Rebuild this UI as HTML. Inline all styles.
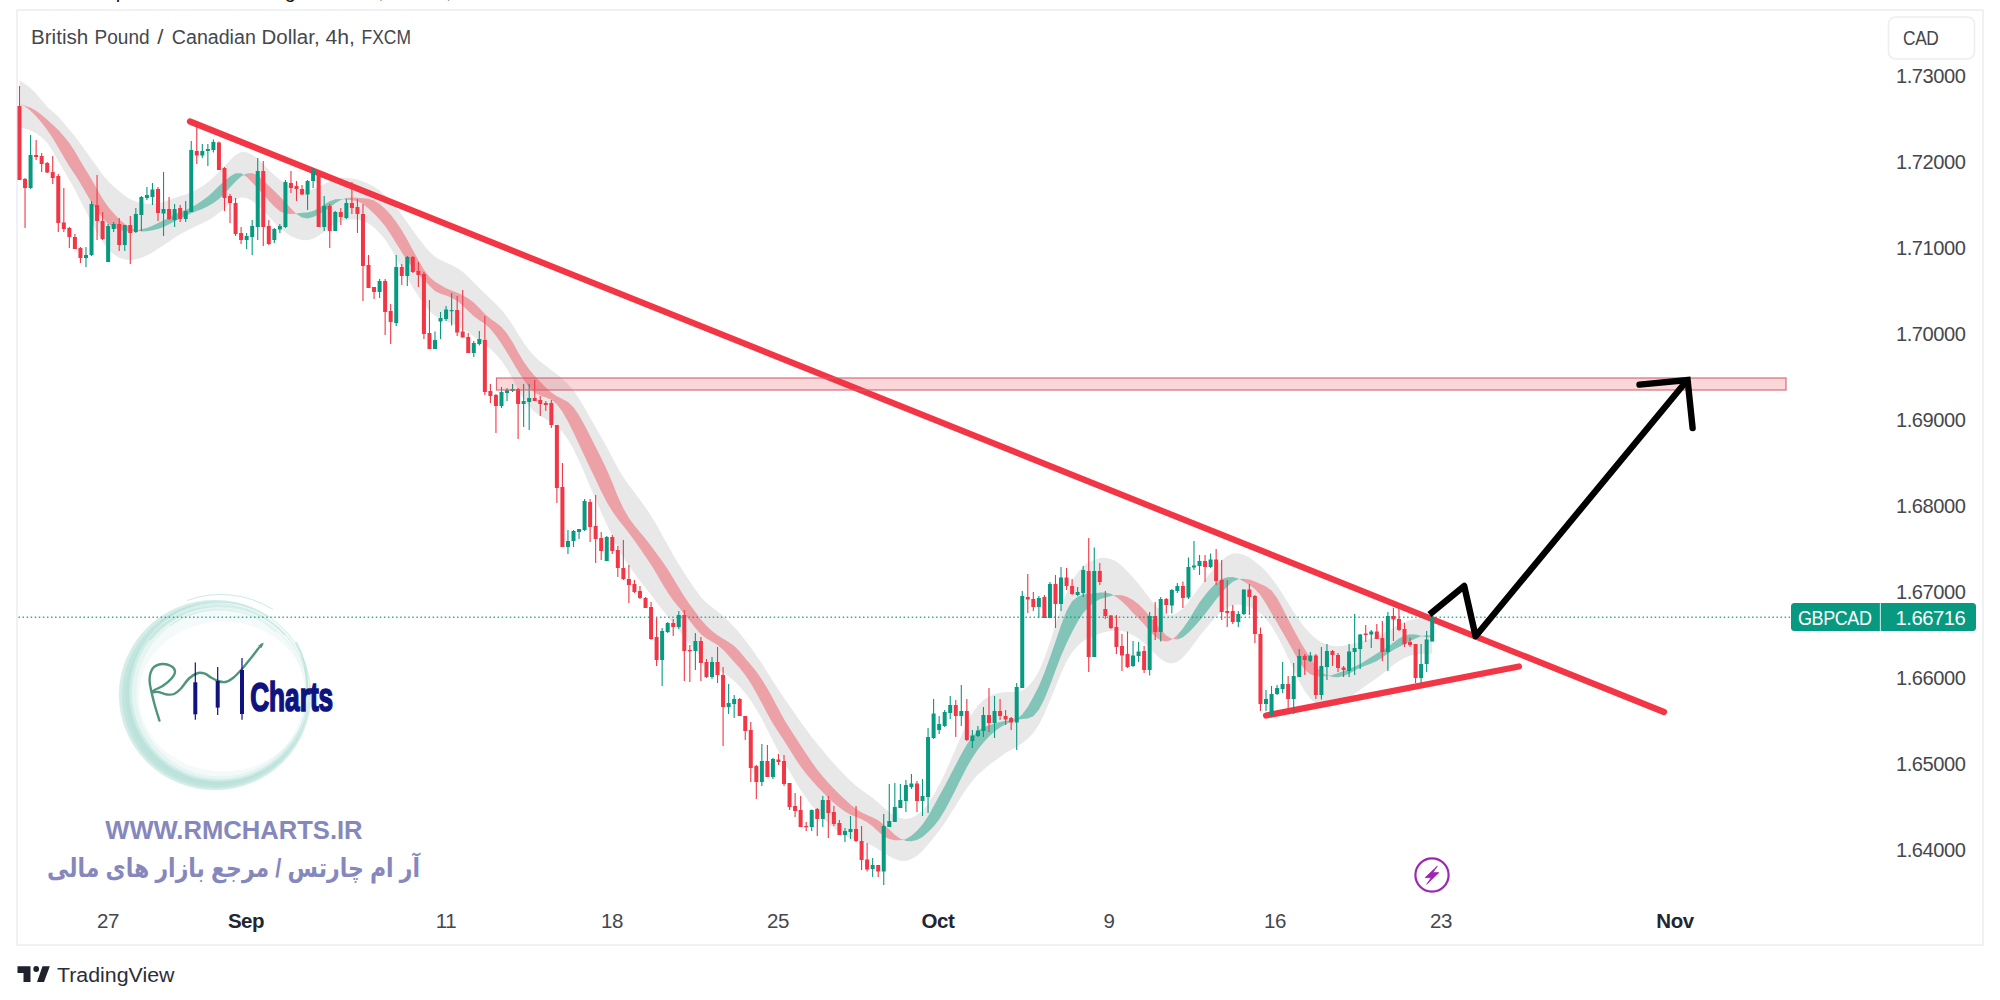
<!DOCTYPE html>
<html lang="en"><head><meta charset="utf-8"><title>GBPCAD 4h</title>
<style>
html,body{margin:0;padding:0;background:#fff;}
body{width:2000px;height:1000px;overflow:hidden;position:relative;font-family:"Liberation Sans","DejaVu Sans",sans-serif;}
#hdr{position:absolute;left:23px;letter-spacing:-0.3px;top:-19px;font-size:20px;line-height:20px;color:#131722;white-space:nowrap;}
#frame{position:absolute;left:16px;top:9px;width:1964px;height:933px;border:2px solid #f0f1f4;box-sizing:content-box;}
svg{position:absolute;left:0;top:0;}
.ax{font-family:"Liberation Sans",sans-serif;font-size:20.5px;fill:#45474d;letter-spacing:-0.45px;}
.ax.b{font-weight:bold;fill:#23262f;}
.ttl{font-family:"Liberation Sans",sans-serif;font-size:20px;fill:#45474d;}
</style></head><body>
<div id="hdr">RMCharts published on TradingView.com, Oct 22, 2023 17:41 UTC</div>
<div id="frame"></div>
<svg width="2000" height="1000" viewBox="0 0 2000 1000">
<g id="watermark">
<g fill="#8ed2c5" fill-rule="evenodd">
<path d="M118.5,695.0a96.5,95.5 0 1,0 193.0,0a96.5,95.5 0 1,0 -193.0,0ZM139.0,696.5a84,75 0 1,0 168,0a84,75 0 1,0 -168,0Z" fill-opacity="0.11"/>
<path d="M119.0,695.0a96,95 0 1,0 192,0a96,95 0 1,0 -192,0ZM129.3,692.0a90,89.5 0 1,0 180,0a90,89.5 0 1,0 -180,0Z" fill-opacity="0.30"/>
<path d="M122.0,695.5a93.5,92.5 0 1,0 187.0,0a93.5,92.5 0 1,0 -187.0,0ZM132.0,692.5a87.5,87 0 1,0 175.0,0a87.5,87 0 1,0 -175.0,0Z" fill-opacity="0.26"/>
<path d="M125.5,696.0a90.5,89.5 0 1,0 181.0,0a90.5,89.5 0 1,0 -181.0,0ZM136.5,693.0a84,83.5 0 1,0 168,0a84,83.5 0 1,0 -168,0Z" fill-opacity="0.12"/>
</g>
<g fill="none" stroke="#8ed2c5">
<path d="M187,600.5 A98,98 0 0 1 273,609.5" stroke-opacity="0.45" stroke-width="1"/>
<path d="M150,640 A88,87 0 0 1 285,635" stroke-opacity="0.30" stroke-width="1.6"/>
<path d="M160,622 A92,91 0 0 1 268,617" stroke-opacity="0.28" stroke-width="1.3"/>
<path d="M170,626 A82,80 0 0 1 276,632" stroke-opacity="0.22" stroke-width="1.2"/>
<path d="M296,642 A92,92 0 0 1 307,690" stroke-opacity="0.4" stroke-width="2.2"/>
</g>
<path d="M159.4,720.5 C158.7,718.1 156.3,710.8 155.0,706.0 C153.7,701.2 152.4,696.5 151.5,692.0 C150.6,687.5 149.3,683.0 149.6,679.0 C149.8,675.0 150.9,670.5 153.0,668.0 C155.1,665.5 159.0,664.3 162.0,664.0 C165.0,663.7 168.8,664.8 171.0,666.0 C173.2,667.2 174.9,669.4 175.0,671.5 C175.1,673.6 173.5,676.1 171.5,678.5 C169.5,680.9 165.8,683.8 163.0,685.7 C160.2,687.6 156.2,688.9 154.5,690.0 C152.8,691.1 152.3,692.0 153.0,692.3 C153.7,692.6 156.2,691.6 158.5,692.0 C160.8,692.4 164.4,694.2 167.0,694.5 C169.6,694.8 171.8,694.9 174.0,694.0 C176.2,693.1 178.0,691.6 180.5,689.0 C183.0,686.4 186.1,681.2 189.0,678.5 C191.9,675.8 195.3,673.8 198.0,673.0 C200.7,672.2 202.8,672.9 205.0,673.6 C207.2,674.4 208.8,676.3 211.0,677.5 C213.2,678.7 215.6,680.2 218.0,681.0 C220.4,681.8 223.0,682.5 225.5,682.0 C228.0,681.5 230.2,680.2 233.0,678.0 C235.8,675.8 239.0,672.3 242.0,669.0 C245.0,665.7 248.4,661.2 251.0,658.0 C253.6,654.8 255.7,651.8 257.5,649.5 C259.3,647.2 261.2,645.3 262.0,644.5" fill="none" stroke="#4d957d" stroke-width="2.4" stroke-linecap="round" stroke-linejoin="round"/>
<path d="M263.8,642.6 L258.2,645.6 L261.4,648.2 Z" fill="#4d957d"/>
<g fill="#0e1380" stroke="#0e1380">
<path d="M195.3,662.5V719.7M217.7,667V715M242,658V719.7" stroke-width="1.2" fill="none"/>
<rect x="193.3" y="682.3" width="4" height="32" stroke="none"/>
<rect x="215.7" y="681" width="4" height="26.6" stroke="none"/>
<rect x="240" y="670" width="4" height="44" stroke="none"/>
</g>
<text x="250.2" y="711.4" textLength="83" lengthAdjust="spacingAndGlyphs" style="font-family:'Liberation Sans',sans-serif;font-weight:bold;font-size:41px;fill:#0e1380;stroke:#0e1380;stroke-width:1.7px">Charts</text>
<text x="105.3" y="839" textLength="257.3" lengthAdjust="spacingAndGlyphs" style="font-family:'Liberation Sans',sans-serif;font-weight:bold;font-size:25px;fill:#8587bd">WWW.RMCHARTS.IR</text>
<text x="420" y="877" direction="rtl" text-anchor="start" textLength="373" lengthAdjust="spacingAndGlyphs" style="font-family:'Liberation Sans','DejaVu Sans',sans-serif;font-weight:bold;font-size:26px;fill:#8587bd" xml:lang="fa">آر ام چارتس / مرجع بازار های مالی</text>
</g>
<g id="ribbon"><path d="M19.5,80.4 L25.0,83.9 L30.6,88.2 L36.1,93.5 L41.7,100.2 L47.2,107.1 L52.7,111.6 L58.3,116.6 L63.8,122.9 L69.4,129.7 L74.9,136.3 L80.4,143.7 L86.0,151.6 L91.5,159.3 L97.1,167.1 L102.6,174.8 L108.1,181.3 L113.7,186.6 L119.2,191.3 L124.8,195.8 L130.3,199.3 L135.8,201.4 L141.4,202.9 L146.9,203.7 L152.5,203.7 L158.0,203.0 L163.5,202.0 L169.1,200.1 L174.6,198.0 L180.2,196.1 L185.7,194.5 L191.2,192.3 L196.8,189.5 L202.3,186.3 L207.9,182.3 L213.4,177.4 L218.9,171.9 L224.5,166.1 L230.0,160.2 L235.6,155.0 L241.1,152.1 L246.6,152.2 L252.2,154.7 L257.7,158.8 L263.3,164.1 L268.8,169.9 L274.3,175.0 L279.9,179.7 L285.4,183.7 L291.0,186.5 L296.5,188.8 L302.0,190.1 L307.6,190.4 L313.1,189.3 L318.7,187.0 L324.2,184.3 L329.7,181.3 L335.3,179.0 L340.8,177.9 L346.4,177.7 L351.9,178.4 L357.4,179.6 L363.0,181.5 L368.5,183.7 L374.1,186.7 L379.6,190.5 L385.1,195.2 L390.7,200.9 L396.2,207.5 L401.8,214.8 L407.3,222.5 L412.8,230.3 L418.4,238.0 L423.9,245.3 L429.5,251.8 L435.0,256.7 L440.5,259.9 L446.1,262.4 L451.6,264.9 L457.2,267.9 L462.7,271.8 L468.2,276.8 L473.8,282.5 L479.3,288.0 L484.9,293.4 L490.4,298.8 L495.9,304.0 L501.5,309.8 L507.0,316.8 L512.6,325.1 L518.1,334.1 L523.6,342.6 L529.2,350.5 L534.7,356.5 L540.3,361.4 L545.8,365.8 L551.3,369.9 L556.9,374.3 L562.4,378.8 L568.0,384.1 L573.5,390.6 L579.0,398.6 L584.6,407.9 L590.1,417.7 L595.7,427.2 L601.2,436.9 L606.7,447.1 L612.3,457.5 L617.8,467.9 L623.4,477.2 L628.9,485.0 L634.4,492.4 L640.0,499.8 L645.5,507.5 L651.1,515.8 L656.6,525.0 L662.1,535.1 L667.7,545.1 L673.2,555.0 L678.8,564.3 L684.3,573.1 L689.8,581.5 L695.4,589.6 L700.9,597.1 L706.5,602.8 L712.0,607.2 L717.5,611.5 L723.1,616.1 L728.6,621.3 L734.2,627.1 L739.7,633.2 L745.2,640.2 L750.8,647.6 L756.3,655.4 L761.9,663.6 L767.4,672.4 L772.9,681.3 L778.5,689.8 L784.0,698.0 L789.6,706.1 L795.1,714.0 L800.6,721.9 L806.2,729.5 L811.7,736.9 L817.3,744.0 L822.8,750.6 L828.3,757.2 L833.9,763.5 L839.4,769.5 L845.0,775.5 L850.5,781.0 L856.0,785.8 L861.6,790.1 L867.1,794.0 L872.7,798.0 L878.2,802.5 L883.7,807.6 L889.3,812.2 L894.8,816.0 L900.4,818.3 L905.9,819.1 L911.4,817.9 L917.0,815.0 L922.5,810.6 L928.1,803.8 L933.6,794.9 L939.1,784.9 L944.7,773.7 L950.2,761.3 L955.8,748.5 L961.3,735.7 L966.8,723.5 L972.4,713.3 L977.9,705.4 L983.5,700.1 L989.0,696.5 L994.5,694.1 L1000.1,692.7 L1005.6,692.0 L1011.2,692.1 L1016.7,692.3 L1022.2,690.4 L1027.8,686.5 L1033.3,680.4 L1038.9,671.0 L1044.4,658.1 L1049.9,642.5 L1055.5,625.1 L1061.0,607.8 L1066.6,592.8 L1072.1,581.1 L1077.6,572.6 L1083.2,566.2 L1088.7,562.3 L1094.3,559.9 L1099.8,558.1 L1105.3,557.8 L1110.9,559.0 L1116.4,561.6 L1122.0,565.9 L1127.5,571.4 L1133.0,577.6 L1138.6,584.1 L1144.1,591.0 L1149.7,598.5 L1155.2,605.2 L1160.7,611.0 L1166.3,614.3 L1171.8,614.9 L1177.4,612.8 L1182.9,608.4 L1188.4,602.1 L1194.0,594.5 L1199.5,586.9 L1205.1,579.7 L1210.6,572.6 L1216.1,566.0 L1221.7,560.4 L1227.2,556.1 L1232.8,553.6 L1238.3,553.2 L1243.8,554.8 L1249.4,557.5 L1254.9,561.4 L1260.5,566.0 L1266.0,571.3 L1271.5,577.7 L1277.1,585.5 L1282.6,594.1 L1288.2,603.1 L1293.7,611.9 L1299.2,619.9 L1304.8,627.5 L1310.3,633.8 L1315.9,638.7 L1321.4,642.3 L1326.9,644.6 L1332.5,645.9 L1338.0,646.2 L1343.6,645.7 L1349.1,644.7 L1354.6,643.2 L1360.2,641.9 L1365.7,640.3 L1371.3,638.4 L1376.8,636.4 L1382.3,634.0 L1387.9,631.0 L1393.4,627.7 L1399.0,624.5 L1404.5,622.0 L1410.0,619.9 L1415.6,618.7 L1421.1,618.4 L1426.7,618.6 L1432.2,619.1 L1432.2,653.7 L1426.7,653.7 L1421.1,653.7 L1415.6,654.3 L1410.0,655.7 L1404.5,658.1 L1399.0,661.1 L1393.4,665.0 L1387.9,669.6 L1382.3,674.0 L1376.8,678.1 L1371.3,682.0 L1365.7,685.7 L1360.2,689.7 L1354.6,693.8 L1349.1,697.9 L1343.6,701.3 L1338.0,704.1 L1332.5,706.2 L1326.9,707.0 L1321.4,706.2 L1315.9,703.5 L1310.3,698.5 L1304.8,691.2 L1299.2,681.5 L1293.7,670.0 L1288.2,658.0 L1282.6,646.2 L1277.1,635.4 L1271.5,626.1 L1266.0,618.8 L1260.5,613.3 L1254.9,609.3 L1249.4,607.1 L1243.8,605.5 L1238.3,604.6 L1232.8,605.3 L1227.2,607.7 L1221.7,611.5 L1216.1,616.6 L1210.6,622.7 L1205.1,629.3 L1199.5,636.2 L1194.0,643.7 L1188.4,651.2 L1182.9,657.5 L1177.4,661.8 L1171.8,663.6 L1166.3,662.6 L1160.7,659.0 L1155.2,653.9 L1149.7,648.6 L1144.1,643.0 L1138.6,638.6 L1133.0,635.3 L1127.5,632.4 L1122.0,631.0 L1116.4,630.5 L1110.9,630.9 L1105.3,632.0 L1099.8,633.6 L1094.3,635.9 L1088.7,638.0 L1083.2,641.1 L1077.6,645.9 L1072.1,652.2 L1066.6,661.3 L1061.0,673.4 L1055.5,686.9 L1049.9,700.8 L1044.4,713.7 L1038.9,724.7 L1033.3,732.9 L1027.8,738.7 L1022.2,743.3 L1016.7,746.8 L1011.2,749.8 L1005.6,753.1 L1000.1,756.9 L994.5,760.9 L989.0,765.1 L983.5,769.7 L977.9,774.5 L972.4,780.9 L966.8,788.3 L961.3,796.6 L955.8,805.4 L950.2,814.3 L944.7,823.0 L939.1,830.8 L933.6,837.8 L928.1,844.6 L922.5,850.7 L917.0,855.7 L911.4,859.1 L905.9,860.9 L900.4,860.7 L894.8,859.0 L889.3,856.3 L883.7,853.0 L878.2,849.3 L872.7,845.9 L867.1,843.4 L861.6,841.5 L856.0,839.9 L850.5,838.3 L845.0,835.7 L839.4,832.3 L833.9,828.2 L828.3,823.3 L822.8,818.0 L817.3,812.2 L811.7,805.5 L806.2,798.1 L800.6,790.0 L795.1,781.1 L789.6,771.6 L784.0,761.7 L778.5,751.4 L772.9,740.8 L767.4,729.9 L761.9,719.0 L756.3,709.2 L750.8,700.5 L745.2,693.0 L739.7,686.4 L734.2,681.0 L728.6,676.4 L723.1,672.4 L717.5,668.7 L712.0,665.4 L706.5,661.6 L700.9,656.4 L695.4,650.4 L689.8,644.0 L684.3,637.2 L678.8,630.5 L673.2,623.8 L667.7,616.6 L662.1,609.6 L656.6,602.2 L651.1,594.8 L645.5,587.9 L640.0,581.0 L634.4,573.6 L628.9,565.8 L623.4,557.4 L617.8,547.6 L612.3,536.4 L606.7,524.6 L601.2,512.3 L595.7,499.4 L590.1,486.4 L584.6,473.4 L579.0,460.8 L573.5,449.2 L568.0,439.5 L562.4,431.9 L556.9,426.1 L551.3,422.3 L545.8,419.3 L540.3,416.0 L534.7,412.0 L529.2,406.4 L523.6,398.7 L518.1,389.3 L512.6,379.0 L507.0,369.1 L501.5,360.8 L495.9,354.3 L490.4,349.0 L484.9,344.3 L479.3,340.2 L473.8,336.5 L468.2,332.6 L462.7,328.9 L457.2,325.8 L451.6,323.5 L446.1,321.3 L440.5,318.9 L435.0,315.9 L429.5,311.0 L423.9,304.1 L418.4,296.2 L412.8,287.5 L407.3,278.0 L401.8,267.9 L396.2,257.7 L390.7,248.2 L385.1,239.6 L379.6,232.9 L374.1,227.6 L368.5,223.5 L363.0,220.8 L357.4,219.4 L351.9,219.4 L346.4,219.9 L340.8,221.3 L335.3,223.7 L329.7,227.4 L324.2,231.8 L318.7,235.7 L313.1,238.8 L307.6,240.3 L302.0,240.1 L296.5,238.7 L291.0,236.0 L285.4,232.6 L279.9,228.0 L274.3,222.5 L268.8,216.6 L263.3,210.4 L257.7,204.9 L252.2,200.8 L246.6,198.0 L241.1,197.5 L235.6,199.6 L230.0,203.9 L224.5,208.6 L218.9,213.0 L213.4,217.1 L207.9,220.4 L202.3,223.2 L196.8,225.7 L191.2,228.5 L185.7,231.3 L180.2,234.3 L174.6,237.8 L169.1,241.5 L163.5,245.2 L158.0,248.8 L152.5,252.4 L146.9,255.5 L141.4,257.8 L135.8,259.3 L130.3,260.1 L124.8,259.5 L119.2,257.7 L113.7,254.3 L108.1,249.3 L102.6,242.1 L97.1,232.8 L91.5,222.4 L86.0,211.7 L80.4,200.5 L74.9,189.7 L69.4,180.0 L63.8,170.4 L58.3,160.9 L52.7,151.3 L47.2,142.8 L41.7,137.6 L36.1,133.3 L30.6,130.4 L25.0,128.5 L19.5,127.4Z" fill="#d9d9d9" fill-opacity="0.6" stroke="#d9d9d9" stroke-opacity="0.6" stroke-width="0" stroke-linejoin="round"/><path d="M19.5,103.9 L25.0,106.6 L30.6,110.7 L36.1,116.2 L41.7,122.7 L47.2,130.1 L52.7,138.1 L58.3,147.5 L63.8,157.0 L69.4,166.6 L74.9,174.5 L80.4,183.2 L86.0,193.0 L91.5,202.5 L97.1,210.7 L102.6,218.0 L108.1,223.9 L113.7,227.6 L119.2,229.9 L124.8,231.2 L130.3,231.6 L135.8,230.6 L141.4,229.3 L141.4,231.4 L135.8,230.2 L130.3,227.8 L124.8,224.1 L119.2,219.2 L113.7,213.3 L108.1,206.7 L102.6,198.8 L97.1,189.2 L91.5,179.3 L86.0,170.2 L80.4,161.0 L74.9,151.4 L69.4,143.1 L63.8,136.3 L58.3,129.9 L52.7,124.8 L47.2,119.8 L41.7,115.0 L36.1,110.7 L30.6,107.8 L25.0,105.8 L19.5,103.9Z" fill="#f23645" fill-opacity="0.4"/><path d="M141.4,229.3 L146.9,227.9 L152.5,225.8 L158.0,222.9 L163.5,220.2 L169.1,217.4 L174.6,214.6 L180.2,212.0 L185.7,210.0 L191.2,207.6 L196.8,204.2 L202.3,200.6 L207.9,196.5 L213.4,191.5 L218.9,186.0 L224.5,180.9 L230.0,176.5 L235.6,173.3 L241.1,173.2 L246.6,176.8 L246.6,173.4 L241.1,176.4 L235.6,181.4 L230.0,187.6 L224.5,193.7 L218.9,198.9 L213.4,202.9 L207.9,206.3 L202.3,208.9 L196.8,211.0 L191.2,213.2 L185.7,215.8 L180.2,218.4 L174.6,221.2 L169.1,224.3 L163.5,227.0 L158.0,228.9 L152.5,230.2 L146.9,231.3 L141.4,231.4Z" fill="#089981" fill-opacity="0.45"/><path d="M246.6,176.8 L252.2,182.6 L257.7,188.4 L263.3,194.2 L268.8,200.8 L274.3,206.6 L279.9,211.2 L285.4,213.7 L291.0,214.0 L296.5,213.5 L296.5,214.0 L291.0,208.6 L285.4,202.6 L279.9,196.5 L274.3,190.9 L268.8,185.7 L263.3,180.3 L257.7,175.4 L252.2,172.9 L246.6,173.4Z" fill="#f23645" fill-opacity="0.4"/><path d="M296.5,213.5 L302.0,212.7 L307.6,212.4 L313.1,211.0 L318.7,208.2 L324.2,204.6 L329.7,201.3 L335.3,199.3 L340.8,199.1 L346.4,199.6 L346.4,198.0 L340.8,200.1 L335.3,203.3 L329.7,207.4 L324.2,211.4 L318.7,214.5 L313.1,217.0 L307.6,218.4 L302.0,217.5 L296.5,214.0Z" fill="#089981" fill-opacity="0.45"/><path d="M346.4,199.6 L351.9,200.3 L357.4,201.3 L363.0,204.1 L368.5,208.4 L374.1,213.8 L379.6,219.5 L385.1,226.0 L390.7,234.3 L396.2,243.3 L401.8,252.3 L407.3,260.7 L412.8,267.9 L418.4,273.9 L423.9,279.7 L429.5,285.8 L435.0,291.0 L440.5,293.7 L446.1,295.6 L451.6,297.7 L457.2,301.0 L462.7,305.5 L468.2,311.0 L473.8,316.3 L479.3,320.3 L484.9,323.8 L490.4,328.9 L495.9,335.7 L501.5,343.7 L507.0,352.5 L512.6,361.8 L518.1,371.2 L523.6,379.7 L529.2,387.2 L534.7,392.5 L540.3,395.6 L545.8,397.6 L551.3,399.8 L556.9,404.2 L562.4,411.7 L568.0,421.4 L573.5,432.5 L579.0,444.2 L584.6,456.2 L590.1,467.9 L595.7,479.4 L601.2,491.2 L606.7,502.1 L612.3,511.3 L617.8,519.0 L623.4,526.0 L628.9,532.9 L634.4,540.5 L640.0,548.6 L645.5,556.6 L651.1,564.7 L656.6,573.7 L662.1,583.6 L667.7,592.5 L673.2,600.4 L678.8,607.2 L684.3,613.9 L689.8,621.1 L695.4,628.1 L700.9,634.2 L706.5,638.6 L712.0,641.7 L717.5,645.0 L723.1,649.7 L728.6,655.7 L734.2,662.0 L739.7,668.0 L745.2,675.0 L750.8,683.3 L756.3,693.0 L761.9,703.2 L767.4,713.7 L772.9,723.5 L778.5,732.2 L784.0,740.5 L789.6,749.4 L795.1,758.3 L800.6,766.6 L806.2,773.8 L811.7,780.3 L817.3,786.5 L822.8,792.2 L828.3,797.7 L833.9,803.0 L839.4,807.6 L845.0,811.6 L850.5,814.7 L856.0,816.8 L861.6,819.2 L867.1,822.3 L872.7,826.5 L878.2,831.4 L883.7,836.2 L889.3,839.1 L894.8,840.3 L900.4,840.2 L905.9,839.0 L905.9,840.9 L900.4,838.8 L894.8,834.7 L889.3,829.5 L883.7,824.4 L878.2,820.3 L872.7,817.4 L867.1,815.1 L861.6,812.4 L856.0,808.9 L850.5,804.6 L845.0,799.6 L839.4,794.2 L833.9,788.7 L828.3,782.8 L822.8,776.4 L817.3,769.7 L811.7,762.1 L806.2,753.8 L800.6,745.2 L795.1,736.8 L789.6,728.3 L784.0,719.2 L778.5,709.1 L772.9,698.6 L767.4,688.6 L761.9,679.5 L756.3,671.6 L750.8,664.8 L745.2,658.2 L739.7,651.6 L734.2,646.1 L728.6,642.0 L723.1,638.8 L717.5,635.3 L712.0,630.9 L706.5,625.8 L700.9,619.4 L695.4,611.9 L689.8,604.5 L684.3,596.4 L678.8,587.6 L673.2,578.3 L667.7,569.2 L662.1,561.1 L656.6,553.5 L651.1,545.9 L645.5,538.8 L640.0,532.2 L634.4,525.5 L628.9,518.0 L623.4,508.6 L617.8,496.4 L612.3,482.6 L606.7,469.6 L601.2,458.1 L595.7,447.1 L590.1,436.1 L584.6,425.2 L579.0,415.2 L573.5,407.3 L568.0,402.1 L562.4,399.0 L556.9,396.2 L551.3,392.4 L545.8,387.5 L540.3,381.8 L534.7,376.0 L529.2,369.6 L523.6,361.6 L518.1,352.2 L512.6,342.3 L507.0,333.5 L501.5,326.9 L495.9,322.6 L490.4,318.8 L484.9,313.9 L479.3,307.9 L473.8,302.6 L468.2,298.4 L462.7,295.2 L457.2,292.7 L451.6,290.6 L446.1,288.2 L440.5,285.1 L435.0,281.7 L429.5,277.0 L423.9,269.7 L418.4,260.2 L412.8,249.9 L407.3,239.8 L401.8,230.3 L396.2,221.9 L390.7,214.8 L385.1,208.8 L379.6,203.9 L374.1,200.4 L368.5,198.7 L363.0,198.2 L357.4,197.8 L351.9,197.5 L346.4,198.0Z" fill="#f23645" fill-opacity="0.4"/><path d="M905.9,839.0 L911.4,835.7 L917.0,830.7 L922.5,824.5 L928.1,816.3 L933.6,806.2 L939.1,796.2 L944.7,786.0 L950.2,775.4 L955.8,764.7 L961.3,754.2 L966.8,744.6 L972.4,736.4 L977.9,730.4 L983.5,727.3 L989.0,725.2 L994.5,723.5 L1000.1,722.1 L1005.6,720.8 L1011.2,720.1 L1016.7,719.0 L1022.2,714.6 L1027.8,706.7 L1033.3,697.0 L1038.9,685.9 L1044.4,672.7 L1049.9,657.8 L1055.5,641.5 L1061.0,625.2 L1066.6,610.8 L1072.1,601.2 L1077.6,596.7 L1083.2,594.4 L1088.7,593.6 L1094.3,593.4 L1099.8,592.5 L1105.3,592.5 L1110.9,593.8 L1116.4,597.1 L1116.4,595.1 L1110.9,596.0 L1105.3,597.4 L1099.8,599.2 L1094.3,602.3 L1088.7,606.7 L1083.2,612.9 L1077.6,621.7 L1072.1,632.1 L1066.6,643.2 L1061.0,656.0 L1055.5,670.5 L1049.9,685.5 L1044.4,699.0 L1038.9,709.8 L1033.3,716.3 L1027.8,718.6 L1022.2,719.1 L1016.7,720.1 L1011.2,721.8 L1005.6,724.2 L1000.1,727.5 L994.5,731.5 L989.0,736.4 L983.5,742.5 L977.9,749.5 L972.4,757.7 L966.8,767.3 L961.3,778.0 L955.8,789.2 L950.2,800.2 L944.7,810.6 L939.1,819.5 L933.6,826.5 L928.1,832.1 L922.5,836.9 L917.0,839.9 L911.4,841.2 L905.9,840.9Z" fill="#089981" fill-opacity="0.45"/><path d="M1116.4,597.1 L1122.0,601.6 L1127.5,606.8 L1133.0,612.9 L1138.6,618.4 L1144.1,624.2 L1149.7,631.0 L1155.2,636.5 L1160.7,640.4 L1166.3,641.5 L1171.8,639.7 L1177.4,635.1 L1177.4,639.5 L1171.8,638.8 L1166.3,635.4 L1160.7,629.5 L1155.2,622.6 L1149.7,616.1 L1144.1,609.8 L1138.6,604.3 L1133.0,600.0 L1127.5,597.0 L1122.0,595.3 L1116.4,595.1Z" fill="#f23645" fill-opacity="0.4"/><path d="M1177.4,635.1 L1182.9,628.6 L1188.4,620.6 L1194.0,611.3 L1199.5,602.4 L1205.1,595.0 L1210.6,588.5 L1216.1,583.0 L1221.7,579.1 L1227.2,577.3 L1232.8,577.0 L1238.3,578.6 L1243.8,581.6 L1243.8,578.7 L1238.3,579.2 L1232.8,581.8 L1227.2,586.5 L1221.7,592.8 L1216.1,599.6 L1210.6,606.8 L1205.1,614.1 L1199.5,620.7 L1194.0,626.9 L1188.4,632.7 L1182.9,637.3 L1177.4,639.5Z" fill="#089981" fill-opacity="0.45"/><path d="M1243.8,581.6 L1249.4,585.0 L1254.9,589.1 L1260.5,595.3 L1266.0,603.8 L1271.5,613.2 L1277.1,622.8 L1282.6,632.2 L1288.2,641.9 L1293.7,652.1 L1299.2,661.7 L1304.8,669.6 L1310.3,674.2 L1315.9,676.2 L1321.4,676.6 L1326.9,676.1 L1332.5,674.9 L1332.5,677.1 L1326.9,675.5 L1321.4,671.9 L1315.9,666.0 L1310.3,658.1 L1304.8,649.2 L1299.2,639.7 L1293.7,629.8 L1288.2,619.2 L1282.6,608.2 L1277.1,598.1 L1271.5,590.6 L1266.0,586.4 L1260.5,583.9 L1254.9,581.6 L1249.4,579.6 L1243.8,578.7Z" fill="#f23645" fill-opacity="0.4"/><path d="M1332.5,674.9 L1338.0,673.1 L1343.6,671.0 L1349.1,668.9 L1354.6,666.4 L1360.2,663.9 L1365.7,660.6 L1371.3,657.0 L1376.8,653.5 L1382.3,650.3 L1387.9,646.9 L1393.4,642.6 L1399.0,638.5 L1404.5,635.8 L1410.0,634.3 L1415.6,634.5 L1421.1,635.8 L1426.7,637.2 L1426.7,635.1 L1421.1,636.3 L1415.6,638.5 L1410.0,641.2 L1404.5,644.3 L1399.0,647.1 L1393.4,650.1 L1387.9,653.6 L1382.3,657.6 L1376.8,661.0 L1371.3,663.4 L1365.7,665.4 L1360.2,667.7 L1354.6,670.6 L1349.1,673.7 L1343.6,676.0 L1338.0,677.2 L1332.5,677.1Z" fill="#089981" fill-opacity="0.45"/><path d="M1426.7,637.2 L1432.2,637.4 L1432.2,635.4 L1426.7,635.1Z" fill="#f23645" fill-opacity="0.4"/></g>
<!-- trend lines -->
<line x1="190" y1="121.5" x2="1664" y2="712" stroke="#f23645" stroke-width="6.2" stroke-linecap="round"/>
<line x1="1266" y1="715.5" x2="1519" y2="666.5" stroke="#f23645" stroke-width="6.2" stroke-linecap="round"/>
<g id="candles"><path d="M19.50,86.0V180.0M25.04,178.0V228.0M36.12,140.0V160.0M41.66,153.0V172.0M47.20,162.0V173.0M52.74,156.0V184.0M58.28,174.0V232.0M63.82,188.0V232.0M69.36,227.0V248.0M74.90,234.0V249.0M80.44,247.0V263.0M97.06,175.0V240.0M102.60,212.0V240.0M119.22,218.0V251.0M130.30,216.0V264.0M158.00,187.0V221.0M169.08,197.0V220.0M180.16,205.0V222.0M196.78,126.0V164.0M218.94,141.6V170.0M224.48,167.0V211.0M230.02,194.0V223.0M235.56,198.0V236.0M241.10,227.0V244.0M263.26,161.0V246.0M268.80,220.0V245.0M290.96,171.0V193.0M296.50,181.0V201.0M302.04,185.0V195.0M318.66,170.0V227.0M329.74,204.0V248.0M340.82,208.0V225.0M351.90,182.0V214.0M357.44,199.0V233.0M362.98,204.0V301.0M368.52,255.0V288.0M374.06,287.0V299.0M385.14,279.0V335.0M390.68,304.0V344.0M401.76,264.0V285.0M412.84,256.0V273.0M418.38,262.0V287.0M423.92,272.0V339.0M429.46,300.0V349.0M457.16,296.0V336.0M462.70,290.0V337.6M468.24,333.0V353.0M484.86,316.0V395.0M490.40,384.0V403.0M495.94,394.0V433.0M518.10,388.0V439.0M534.72,380.0V401.0M540.26,396.0V416.0M545.80,401.0V411.0M551.34,400.0V428.0M556.88,425.0V503.0M562.42,463.0V547.0M590.12,499.0V542.0M595.66,495.0V563.0M601.20,532.0V560.0M612.28,535.0V554.0M617.82,546.0V577.0M623.36,540.0V580.0M628.90,565.0V603.0M634.44,580.0V593.0M639.98,586.0V599.0M645.52,597.0V608.0M651.06,602.0V640.0M656.60,618.0V666.0M673.22,619.0V636.0M684.30,610.0V681.0M689.84,645.0V682.0M700.92,637.0V681.0M706.46,659.0V678.0M717.54,647.0V683.0M723.08,667.0V746.0M739.70,698.0V716.0M745.24,716.0V740.0M750.78,722.0V782.0M756.32,765.0V799.0M767.40,745.0V777.0M778.48,754.0V765.0M784.02,755.0V786.0M789.56,783.0V810.0M795.10,793.0V817.0M800.64,796.0V827.0M806.18,822.0V831.0M817.26,808.0V836.0M828.34,796.0V838.0M833.88,806.0V826.0M839.42,820.0V835.0M856.04,806.0V842.0M861.58,826.0V870.0M867.12,843.0V871.6M878.20,865.0V877.0M916.98,781.0V812.0M955.76,700.0V737.0M966.84,699.0V741.0M989.00,688.0V732.0M1000.08,699.0V720.0M1005.62,710.0V725.0M1011.16,717.0V730.0M1027.78,574.0V613.0M1033.32,592.0V611.0M1044.40,595.0V618.0M1055.48,575.0V628.0M1066.56,568.0V590.0M1072.10,579.0V595.0M1088.72,538.0V672.0M1099.80,563.0V585.0M1105.34,591.0V619.0M1110.88,615.0V629.0M1116.42,615.0V654.0M1121.96,634.0V671.0M1127.50,631.6V668.0M1144.12,646.0V673.0M1155.20,602.0V640.0M1166.28,598.0V613.6M1182.90,581.6V608.0M1205.06,555.0V582.0M1216.14,549.0V585.0M1221.68,560.0V620.0M1227.22,580.0V627.0M1232.76,605.0V624.0M1249.38,584.0V615.0M1254.92,595.0V643.0M1260.46,627.6V711.0M1288.16,676.0V710.0M1304.78,654.0V675.0M1315.86,654.0V699.0M1332.48,650.0V666.0M1338.02,653.0V672.0M1343.56,666.0V677.0M1365.72,625.0V642.0M1376.80,624.0V639.0M1382.34,621.0V661.0M1393.42,608.0V641.0M1398.96,609.0V631.0M1404.50,623.0V647.0M1410.04,637.6V647.0M1415.58,644.0V683.0" stroke="#f23645" stroke-width="1.1" fill="none"/><path d="M30.58,135.0V189.0M85.98,247.0V267.0M91.52,201.0V256.0M108.14,224.0V262.0M113.68,222.0V232.0M124.76,225.0V251.0M135.84,208.0V233.0M141.38,196.0V231.0M146.92,187.0V200.0M152.46,183.0V205.0M163.54,172.0V236.0M174.62,204.0V227.0M185.70,201.0V222.0M191.24,141.0V212.0M202.32,144.0V158.0M207.86,144.0V166.0M213.40,139.6V152.4M246.64,233.0V249.0M252.18,220.0V255.0M257.72,158.0V240.0M274.34,228.0V243.0M279.88,224.0V233.0M285.42,180.0V228.0M307.58,180.0V210.0M313.12,168.0V188.0M324.20,196.0V231.0M335.28,211.0V231.0M346.36,199.0V219.0M379.60,279.0V298.0M396.22,255.0V326.0M407.30,256.0V286.0M435.00,331.6V349.0M440.54,312.0V339.0M446.08,306.0V321.0M451.62,293.0V325.6M473.78,341.0V357.0M479.32,331.0V345.6M501.48,387.0V408.0M507.02,388.0V401.0M512.56,384.0V392.0M523.64,384.0V427.0M529.18,384.0V430.0M567.96,530.0V554.0M573.50,530.0V547.0M579.04,529.0V539.0M584.58,499.0V531.0M606.74,536.0V561.0M662.14,628.0V686.0M667.68,622.0V633.0M678.76,611.0V629.0M695.38,633.0V670.0M712.00,657.0V679.0M728.62,684.0V714.0M734.16,695.0V718.0M761.86,744.0V786.0M772.94,758.0V779.0M811.72,809.6V831.0M822.80,796.0V827.0M844.96,828.0V842.0M850.50,816.0V839.0M872.66,858.0V877.0M883.74,814.0V885.0M889.28,784.0V827.0M894.82,783.0V822.0M900.36,784.0V808.0M905.90,780.0V812.0M911.44,774.0V789.0M922.52,779.0V816.0M928.06,728.0V813.0M933.60,699.0V739.0M939.14,716.0V734.0M944.68,710.0V727.0M950.22,696.0V719.0M961.30,685.0V726.0M972.38,730.0V748.0M977.92,726.0V737.0M983.46,707.0V737.0M994.54,696.0V738.0M1016.70,683.0V750.0M1022.24,591.0V688.0M1038.86,596.0V618.0M1049.94,582.0V618.0M1061.02,567.0V611.0M1077.64,587.0V596.0M1083.18,566.0V597.0M1094.26,547.6V657.0M1133.04,641.0V667.0M1138.58,642.0V662.0M1149.66,612.0V675.6M1160.74,597.0V641.6M1171.82,589.0V613.6M1177.36,583.0V593.0M1188.44,557.6V599.0M1193.98,541.0V570.0M1199.52,555.0V575.0M1210.60,553.6V568.0M1238.30,611.0V627.0M1243.84,589.6V615.0M1266.00,690.0V711.0M1271.54,686.0V717.0M1277.08,685.0V695.0M1282.62,662.0V693.0M1293.70,663.0V714.0M1299.24,649.0V677.0M1310.32,652.0V662.0M1321.40,647.0V699.6M1326.94,644.0V680.0M1349.10,644.0V677.0M1354.64,614.0V675.0M1360.18,634.0V669.0M1371.26,630.0V648.0M1387.88,612.0V671.0M1421.12,644.0V683.0M1426.66,631.0V672.0M1432.20,609.0V641.6" stroke="#089981" stroke-width="1.1" fill="none"/><path d="M17.50,106.0h4V180.0h-4ZM23.04,179.0h4V188.0h-4ZM34.12,155.0h4V157.0h-4ZM39.66,156.0h4V164.0h-4ZM45.20,163.0h4V172.5h-4ZM50.74,172.0h4V178.0h-4ZM56.28,176.0h4V223.0h-4ZM61.82,222.5h4V229.0h-4ZM67.36,228.0h4V237.0h-4ZM72.90,237.0h4V249.0h-4ZM78.44,248.0h4V258.0h-4ZM95.06,205.0h4V221.0h-4ZM100.60,221.0h4V239.0h-4ZM117.22,224.0h4V245.0h-4ZM128.30,225.0h4V233.0h-4ZM156.00,189.0h4V213.0h-4ZM167.08,209.0h4V219.0h-4ZM178.16,208.0h4V219.0h-4ZM194.78,151.0h4V155.6h-4ZM216.94,142.4h4V170.0h-4ZM222.48,168.0h4V198.0h-4ZM228.02,196.0h4V203.0h-4ZM233.56,203.0h4V234.0h-4ZM239.10,233.0h4V240.0h-4ZM261.26,171.0h4V227.0h-4ZM266.80,226.0h4V244.0h-4ZM288.96,183.0h4V188.0h-4ZM294.50,186.0h4V189.0h-4ZM300.04,189.0h4V194.4h-4ZM316.66,171.0h4V227.0h-4ZM327.74,206.0h4V231.0h-4ZM338.82,212.0h4V217.0h-4ZM349.90,203.0h4V208.0h-4ZM355.44,207.0h4V214.0h-4ZM360.98,214.0h4V266.0h-4ZM366.52,265.0h4V288.0h-4ZM372.06,287.0h4V292.0h-4ZM383.14,281.0h4V312.0h-4ZM388.68,311.0h4V322.0h-4ZM399.76,267.0h4V276.0h-4ZM410.84,257.0h4V272.0h-4ZM416.38,271.0h4V275.0h-4ZM421.92,274.0h4V334.0h-4ZM427.46,333.0h4V349.0h-4ZM455.16,310.0h4V332.4h-4ZM460.70,331.6h4V337.6h-4ZM466.24,337.0h4V353.0h-4ZM482.86,340.0h4V392.0h-4ZM488.40,391.0h4V396.0h-4ZM493.94,395.0h4V406.0h-4ZM516.10,389.0h4V404.0h-4ZM532.72,398.0h4V401.0h-4ZM538.26,400.0h4V404.0h-4ZM543.80,403.0h4V405.0h-4ZM549.34,403.0h4V425.0h-4ZM554.88,425.0h4V488.0h-4ZM560.42,487.0h4V547.0h-4ZM588.12,502.0h4V527.0h-4ZM593.66,526.0h4V539.0h-4ZM599.20,538.0h4V551.0h-4ZM610.28,537.0h4V551.0h-4ZM615.82,550.0h4V568.0h-4ZM621.36,568.0h4V579.0h-4ZM626.90,579.0h4V585.0h-4ZM632.44,584.0h4V592.0h-4ZM637.98,591.0h4V598.0h-4ZM643.52,598.0h4V608.0h-4ZM649.06,607.0h4V639.0h-4ZM654.60,637.0h4V660.0h-4ZM671.22,623.0h4V627.0h-4ZM682.30,615.0h4V651.0h-4ZM687.84,650.0h4V651.2h-4ZM698.92,641.0h4V663.0h-4ZM704.46,662.0h4V677.0h-4ZM715.54,662.0h4V675.0h-4ZM721.08,675.0h4V707.0h-4ZM737.70,699.0h4V716.0h-4ZM743.24,716.0h4V731.0h-4ZM748.78,730.0h4V768.0h-4ZM754.32,766.0h4V782.0h-4ZM765.40,761.0h4V777.0h-4ZM776.48,759.6h4V762.0h-4ZM782.02,761.0h4V784.0h-4ZM787.56,783.0h4V807.0h-4ZM793.10,806.0h4V811.0h-4ZM798.64,810.0h4V827.0h-4ZM804.18,826.0h4V827.2h-4ZM815.26,809.0h4V819.0h-4ZM826.34,800.0h4V813.0h-4ZM831.88,812.0h4V824.0h-4ZM837.42,823.0h4V835.0h-4ZM854.04,829.0h4V841.0h-4ZM859.58,841.0h4V860.0h-4ZM865.12,859.6h4V869.6h-4ZM876.20,865.0h4V871.6h-4ZM914.98,783.6h4V801.0h-4ZM953.76,705.0h4V716.0h-4ZM964.84,711.0h4V740.0h-4ZM987.00,715.0h4V723.0h-4ZM998.08,711.0h4V716.0h-4ZM1003.62,716.0h4V719.6h-4ZM1009.16,718.0h4V722.4h-4ZM1025.78,597.0h4V599.6h-4ZM1031.32,599.0h4V607.0h-4ZM1042.40,597.0h4V618.0h-4ZM1053.48,584.0h4V604.0h-4ZM1064.56,577.6h4V586.0h-4ZM1070.10,586.0h4V594.0h-4ZM1086.72,571.0h4V657.0h-4ZM1097.80,571.0h4V582.0h-4ZM1103.34,609.0h4V616.0h-4ZM1108.88,615.6h4V628.0h-4ZM1114.42,627.0h4V647.0h-4ZM1119.96,646.0h4V655.6h-4ZM1125.50,654.0h4V667.0h-4ZM1142.12,651.0h4V670.0h-4ZM1153.20,616.0h4V632.0h-4ZM1164.28,599.0h4V605.0h-4ZM1180.90,586.0h4V598.0h-4ZM1203.06,561.0h4V567.0h-4ZM1214.14,559.6h4V581.0h-4ZM1219.68,580.0h4V612.0h-4ZM1225.22,611.0h4V613.0h-4ZM1230.76,611.0h4V622.0h-4ZM1247.38,589.6h4V597.0h-4ZM1252.92,596.0h4V634.0h-4ZM1258.46,634.0h4V704.0h-4ZM1286.16,684.0h4V699.0h-4ZM1302.78,656.0h4V660.0h-4ZM1313.86,655.6h4V695.0h-4ZM1330.48,651.0h4V655.0h-4ZM1336.02,655.0h4V668.0h-4ZM1341.56,667.6h4V670.0h-4ZM1363.72,633.6h4V635.0h-4ZM1374.80,631.6h4V639.0h-4ZM1380.34,638.0h4V652.0h-4ZM1391.42,616.0h4V619.6h-4ZM1396.96,619.0h4V630.0h-4ZM1402.50,629.0h4V644.0h-4ZM1408.04,642.0h4V645.0h-4ZM1413.58,644.0h4V678.0h-4Z" fill="#f23645"/><path d="M28.58,155.0h4V188.0h-4ZM83.98,255.0h4V258.0h-4ZM89.52,204.0h4V255.0h-4ZM106.14,226.0h4V262.0h-4ZM111.68,224.0h4V229.0h-4ZM122.76,225.0h4V245.0h-4ZM133.84,214.0h4V232.0h-4ZM139.38,197.0h4V215.0h-4ZM144.92,195.0h4V198.0h-4ZM150.46,189.6h4V197.0h-4ZM161.54,209.0h4V213.6h-4ZM172.62,209.0h4V220.0h-4ZM183.70,211.0h4V219.0h-4ZM189.24,150.0h4V212.0h-4ZM200.32,151.0h4V155.6h-4ZM205.86,149.0h4V151.0h-4ZM211.40,142.0h4V150.0h-4ZM244.64,236.0h4V240.0h-4ZM250.18,226.0h4V237.0h-4ZM255.72,171.0h4V227.0h-4ZM272.34,229.0h4V240.0h-4ZM277.88,226.0h4V229.6h-4ZM283.42,182.0h4V227.0h-4ZM305.58,181.0h4V194.4h-4ZM311.12,170.0h4V181.0h-4ZM322.20,206.0h4V227.0h-4ZM333.28,212.0h4V231.0h-4ZM344.36,203.0h4V218.0h-4ZM377.60,281.0h4V292.0h-4ZM394.22,267.0h4V323.0h-4ZM405.30,257.0h4V276.0h-4ZM433.00,340.0h4V349.0h-4ZM438.54,318.0h4V321.6h-4ZM444.08,309.6h4V319.0h-4ZM449.62,310.0h4V311.2h-4ZM471.78,343.0h4V353.0h-4ZM477.32,339.0h4V344.0h-4ZM499.48,392.0h4V406.0h-4ZM505.02,390.0h4V393.0h-4ZM510.56,389.0h4V391.0h-4ZM521.64,401.0h4V404.0h-4ZM527.18,398.0h4V402.0h-4ZM565.96,541.0h4V547.0h-4ZM571.50,531.0h4V541.0h-4ZM577.04,529.0h4V532.0h-4ZM582.58,501.0h4V530.0h-4ZM604.74,537.0h4V561.0h-4ZM660.14,631.0h4V660.0h-4ZM665.68,623.0h4V632.0h-4ZM676.76,615.0h4V627.0h-4ZM693.38,641.0h4V651.0h-4ZM710.00,662.0h4V677.0h-4ZM726.62,703.0h4V707.0h-4ZM732.16,699.0h4V704.0h-4ZM759.86,761.0h4V782.0h-4ZM770.94,759.0h4V777.0h-4ZM809.72,810.0h4V827.0h-4ZM820.80,800.0h4V819.0h-4ZM842.96,831.0h4V835.0h-4ZM848.50,829.0h4V832.0h-4ZM870.66,865.0h4V869.0h-4ZM881.74,826.0h4V871.6h-4ZM887.28,821.0h4V827.0h-4ZM892.82,807.0h4V822.0h-4ZM898.36,800.0h4V808.0h-4ZM903.90,785.0h4V801.0h-4ZM909.44,783.6h4V787.0h-4ZM920.52,796.0h4V801.0h-4ZM926.06,737.0h4V797.0h-4ZM931.60,713.6h4V738.0h-4ZM937.14,724.0h4V730.0h-4ZM942.68,712.0h4V726.0h-4ZM948.22,705.0h4V713.0h-4ZM959.30,711.0h4V716.0h-4ZM970.38,735.6h4V741.0h-4ZM975.92,730.4h4V736.0h-4ZM981.46,715.0h4V731.0h-4ZM992.54,711.0h4V723.0h-4ZM1014.70,687.0h4V722.4h-4ZM1020.24,596.0h4V688.0h-4ZM1036.86,598.0h4V607.0h-4ZM1047.94,584.0h4V618.0h-4ZM1059.02,577.6h4V604.0h-4ZM1075.64,592.0h4V595.0h-4ZM1081.18,570.0h4V593.0h-4ZM1092.26,571.0h4V657.0h-4ZM1131.04,655.6h4V666.0h-4ZM1136.58,651.6h4V656.0h-4ZM1147.66,616.0h4V670.0h-4ZM1158.74,599.0h4V632.0h-4ZM1169.82,590.0h4V605.6h-4ZM1175.36,586.0h4V591.0h-4ZM1186.44,567.0h4V597.6h-4ZM1191.98,565.6h4V567.6h-4ZM1197.52,561.0h4V566.0h-4ZM1208.60,559.6h4V567.0h-4ZM1236.30,614.0h4V622.0h-4ZM1241.84,589.6h4V614.0h-4ZM1264.00,699.0h4V704.0h-4ZM1269.54,694.0h4V716.0h-4ZM1275.08,688.0h4V694.0h-4ZM1280.62,684.0h4V689.0h-4ZM1291.70,676.0h4V699.0h-4ZM1297.24,656.0h4V677.0h-4ZM1308.32,655.6h4V661.0h-4ZM1319.40,666.0h4V695.0h-4ZM1324.94,651.0h4V667.0h-4ZM1347.10,651.6h4V671.0h-4ZM1352.64,648.0h4V652.0h-4ZM1358.18,634.4h4V649.0h-4ZM1369.26,631.6h4V634.4h-4ZM1385.88,616.0h4V652.0h-4ZM1419.12,664.0h4V678.0h-4ZM1424.66,639.6h4V664.0h-4ZM1430.20,617.0h4V641.6h-4Z" fill="#089981"/></g>
<!-- price line -->
<line x1="18.5" y1="617.3" x2="1791" y2="617.3" stroke="#089981" stroke-opacity="0.8" stroke-width="1.4" stroke-dasharray="1.5 2.56"/>
<!-- resistance box -->
<rect x="496.5" y="378" width="1289.5" height="12" fill="#f23645" fill-opacity="0.2" stroke="#d35f6b" stroke-opacity="0.9" stroke-width="1.2"/>
<!-- projection arrow -->
<path d="M1429.5,614.5 L1464.2,586 L1475.6,636.2 L1688,379.3" fill="none" stroke="#000" stroke-width="6.4" stroke-linejoin="round" stroke-linecap="butt"/>
<path d="M1639.5,384.6 L1687.6,380 L1692.6,428" fill="none" stroke="#000" stroke-width="6.4" stroke-linejoin="miter" stroke-linecap="round"/>
<!-- title -->
<g class="ttl"><text x="31" y="43.6" textLength="57.3" lengthAdjust="spacingAndGlyphs">British</text><text x="94.6" y="43.6" textLength="55" lengthAdjust="spacingAndGlyphs">Pound</text><text x="157.3" y="43.6" textLength="6.2" lengthAdjust="spacingAndGlyphs">/</text><text x="171.8" y="43.6" textLength="84" lengthAdjust="spacingAndGlyphs">Canadian</text><text x="261.6" y="43.6" textLength="58" lengthAdjust="spacingAndGlyphs">Dollar,</text><text x="325.4" y="43.6" textLength="29.5" lengthAdjust="spacingAndGlyphs">4h,</text><text x="361.5" y="43.6" textLength="49.5" lengthAdjust="spacingAndGlyphs">FXCM</text></g>
<!-- price axis -->
<rect x="1888.5" y="17" width="86" height="42" rx="7" fill="#fff" stroke="#eceef2" stroke-width="1.6"/>
<text x="1903" y="45" class="ax" textLength="35.5" lengthAdjust="spacingAndGlyphs">CAD</text>
<text x="1895.9" y="83.4" class="ax" textLength="69.6" lengthAdjust="spacingAndGlyphs">1.73000</text><text x="1895.9" y="169.4" class="ax" textLength="69.6" lengthAdjust="spacingAndGlyphs">1.72000</text><text x="1895.9" y="255.4" class="ax" textLength="69.6" lengthAdjust="spacingAndGlyphs">1.71000</text><text x="1895.9" y="341.4" class="ax" textLength="69.6" lengthAdjust="spacingAndGlyphs">1.70000</text><text x="1895.9" y="427.4" class="ax" textLength="69.6" lengthAdjust="spacingAndGlyphs">1.69000</text><text x="1895.9" y="513.4" class="ax" textLength="69.6" lengthAdjust="spacingAndGlyphs">1.68000</text><text x="1895.9" y="599.4" class="ax" textLength="69.6" lengthAdjust="spacingAndGlyphs">1.67000</text><text x="1895.9" y="685.4" class="ax" textLength="69.6" lengthAdjust="spacingAndGlyphs">1.66000</text><text x="1895.9" y="771.4" class="ax" textLength="69.6" lengthAdjust="spacingAndGlyphs">1.65000</text><text x="1895.9" y="857.4" class="ax" textLength="69.6" lengthAdjust="spacingAndGlyphs">1.64000</text>
<g>
<rect x="1791" y="603" width="185" height="28" rx="3.5" fill="#089981"/>
<line x1="1880.4" y1="603" x2="1880.4" y2="631" stroke="#bfe8df" stroke-width="1.1"/>
<text x="1798" y="624.6" class="ax" style="fill:#fff" textLength="73.5" lengthAdjust="spacingAndGlyphs">GBPCAD</text>
<text x="1895.5" y="624.6" class="ax" style="fill:#fff" textLength="69.9" lengthAdjust="spacingAndGlyphs">1.66716</text>
</g>
<text x="108" y="928.1" text-anchor="middle" class="ax">27</text><text x="246" y="928.1" text-anchor="middle" class="ax b">Sep</text><text x="446" y="928.1" text-anchor="middle" class="ax">11</text><text x="612" y="928.1" text-anchor="middle" class="ax">18</text><text x="778" y="928.1" text-anchor="middle" class="ax">25</text><text x="938" y="928.1" text-anchor="middle" class="ax b">Oct</text><text x="1109" y="928.1" text-anchor="middle" class="ax">9</text><text x="1275" y="928.1" text-anchor="middle" class="ax">16</text><text x="1441" y="928.1" text-anchor="middle" class="ax">23</text><text x="1675" y="928.1" text-anchor="middle" class="ax b">Nov</text>
<!-- lightning icon -->
<g stroke="#9c27b0" fill="none">
<circle cx="1432" cy="875" r="16.6" stroke-width="2.2"/>
<path d="M1437.3,866.2 L1425.2,877.6 L1431.4,877.6 L1426.8,884.2 L1438.8,872.7 L1432.6,872.7 Z" fill="#9c27b0" stroke-width="0.9" stroke-linejoin="round"/>
</g>
<!-- TradingView logo -->
<g fill="#1e222d">
<path d="M17.5,966.2 H30.5 V982 H23.5 V973 H17.5 Z"/>
<circle cx="36.2" cy="969" r="2.9"/>
<path d="M42.5,966.2 H49.8 L44,982 H37 Z"/>
</g>
<text x="57" y="982" style="font-family:'Liberation Sans',sans-serif;font-size:19.5px;fill:#2a2e39" textLength="117.5" lengthAdjust="spacingAndGlyphs">TradingView</text>
</svg>
</body></html>
